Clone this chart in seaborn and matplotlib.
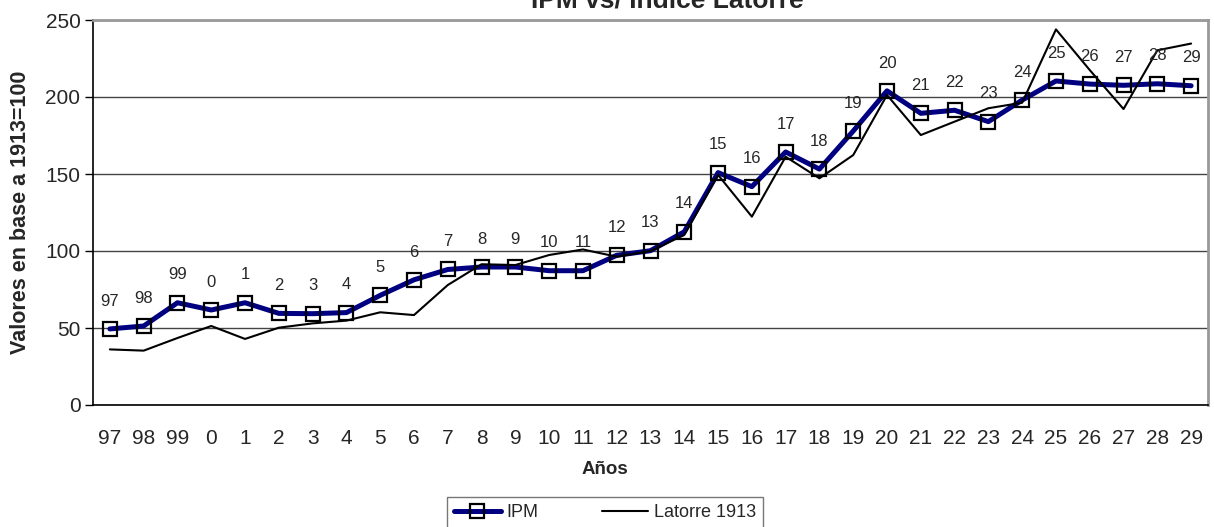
import matplotlib
matplotlib.use("Agg")
import matplotlib.pyplot as plt
import seaborn as sns
import numpy as np
import pandas as pd

# Años (etiquetas del eje x) y valores
anios = ["97", "98", "99"] + [str(i) for i in range(0, 30)]

ipm = [49.4, 51.3, 66.4, 61.7, 66.4, 59.5, 59.3, 60.0, 71.2, 81.3,
       88.0, 89.6, 89.6, 87.2, 87.2, 97.2, 100.2, 112.5, 150.9, 141.8,
       164.3, 153.2, 177.9, 204.0, 189.4, 191.4, 184.0, 198.0, 210.4, 208.4,
       207.6, 208.6, 207.3]

latorre = [36.1, 35.3, 43.5, 51.3, 42.9, 50.2, 53.0, 54.8, 60.2, 58.4,
           77.9, 91.4, 90.9, 97.4, 101.0, 96.3, 100.0, 110.4, 149.4, 122.3,
           161.2, 147.2, 162.3, 201.3, 175.3, 184.0, 192.7, 196.3, 243.9, 217.5,
           192.2, 230.3, 234.7]

df = pd.DataFrame({"pos": np.arange(len(anios)), "anio": anios,
                   "IPM": ipm, "Latorre 1913": latorre})

sns.set_style("white")
plt.rcParams["font.family"] = ["Liberation Sans", "DejaVu Sans"]

fig = plt.figure(figsize=(12.14, 5.27), dpi=100)
ax = fig.add_axes([93 / 1214, 1 - 405 / 527, (1208 - 93) / 1214, (405 - 20) / 527])

sns.lineplot(data=df, x="pos", y="IPM", ax=ax, color="#000080", linewidth=3.6,
             marker="s", markersize=10, markerfacecolor="none",
             markeredgecolor="black", markeredgewidth=1.6, label="IPM", zorder=3)
sns.lineplot(data=df, x="pos", y="Latorre 1913", ax=ax, color="black",
             linewidth=1.5, label="Latorre 1913", zorder=4)

# etiquetas de datos sobre cada punto del IPM
for x, y, t in zip(df["pos"], df["IPM"], df["anio"]):
    ax.annotate(t, (x, y), xytext=(0, 20), textcoords="offset points",
                ha="center", va="center", fontsize=12, zorder=5)

ax.set_xlim(-0.5, len(anios) - 0.5)
ax.set_ylim(0, 250)
ax.set_yticks(range(0, 251, 50))
ax.set_xticks(df["pos"])
ax.set_xticklabels(anios)
ax.set_xticks(np.arange(-0.5, len(anios), 1.0), minor=True)
ax.tick_params(axis="x", which="major", length=0, pad=17, labelsize=15)
ax.tick_params(axis="x", which="minor", length=5, width=1, color="black", direction="out")
ax.tick_params(axis="y", length=6, width=1, color="black", direction="out",
               pad=3, labelsize=15, left=True)
ax.grid(axis="y", color="#444444", linewidth=1)
ax.set_axisbelow(True)

for s in ["left", "bottom"]:
    ax.spines[s].set_color("black")
    ax.spines[s].set_linewidth(1.2)
for s in ["top", "right"]:
    ax.spines[s].set_color("#999999")
    ax.spines[s].set_linewidth(2)

ax.set_ylabel("Valores en base a 1913=100", fontsize=15.5, fontweight="bold")
ax.yaxis.set_label_coords(-0.056, 0.5)
ax.set_xlabel("Años", fontsize=13.5, fontweight="bold")
ax.xaxis.set_label_coords(0.459, -0.145)

fig.text(667 / 1214, 1 - 8 / 527, "IPM vs/ Indice Latorre", ha="center",
         va="baseline", fontsize=19, fontweight="bold")

leg = ax.legend(loc="upper center", bbox_to_anchor=(605 / 1214, 1 - 497 / 527),
                bbox_transform=fig.transFigure, ncol=2, fontsize=13,
                frameon=True, fancybox=False, borderaxespad=0,
                handlelength=2.6, columnspacing=3.5, handletextpad=0.3,
                borderpad=0.4)
leg.get_frame().set_edgecolor("#555555")
leg.get_frame().set_linewidth(1)

fig.savefig("out.png", dpi=100)
plt.close(fig)
